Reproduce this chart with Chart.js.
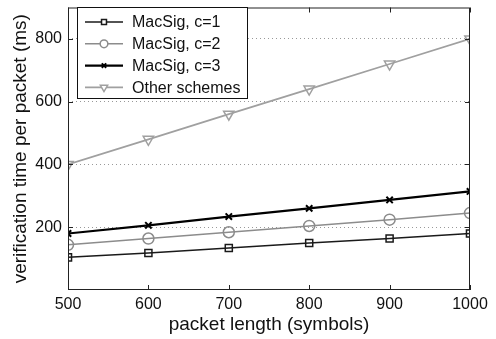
<!DOCTYPE html>
<html>
<head>
<meta charset="utf-8">
<script src="https://cdn.jsdelivr.net/npm/chart.js@4"></script>
<style>
  html, body { margin: 0; padding: 0; background: #fff; }
  #wrap { width: 496px; height: 339px; }
</style>
</head>
<body>
<div id="wrap"><canvas id="c" width="496" height="339"></canvas></div>
<script>
// data
const packetLengths = [500, 600, 700, 800, 900, 1000];
const macsigC1 = [104, 118, 134, 150, 164, 180];
const macsigC2 = [144, 164, 184, 204, 224, 245];
const macsigC3 = [180, 206, 234, 260, 287, 314];
const otherSchemes = [400, 480, 560, 640, 720, 800];
const yTicks = [200, 400, 600, 800];
const xTicks = [500, 600, 700, 800, 900, 1000];

const FONT = "'Liberation Sans', Arial, Helvetica, sans-serif";

function pts(vals) {
  return packetLengths.map((x, i) => ({ x, y: vals[i] }));
}

// MATLAB-like box, inward ticks and the legend
const boxPlugin = {
  id: "box",
  afterDraw(chart) {
    const { ctx, chartArea: a, scales } = chart;
    ctx.save();
    ctx.strokeStyle = "#222";
    ctx.lineWidth = 1;
    ctx.strokeRect(a.left + 0.5, a.top + 0.5, a.right - a.left - 1, a.bottom - a.top - 1);
    ctx.beginPath();
    xTicks.forEach((v) => {
      const px = Math.round(scales.x.getPixelForValue(v)) + 0.5;
      ctx.moveTo(px, a.bottom); ctx.lineTo(px, a.bottom - 5);
      ctx.moveTo(px, a.top); ctx.lineTo(px, a.top + 5);
    });
    yTicks.forEach((v) => {
      const py = Math.round(scales.y.getPixelForValue(v)) + 0.5;
      ctx.moveTo(a.left, py); ctx.lineTo(a.left + 5, py);
      ctx.moveTo(a.right, py); ctx.lineTo(a.right - 5, py);
    });
    ctx.stroke();

    // legend
    const lx = 77, ly = 7, lw = 170, lh = 91;
    ctx.fillStyle = "#fff";
    ctx.fillRect(lx, ly, lw, lh);
    ctx.strokeStyle = "#111";
    ctx.strokeRect(lx + 0.5, ly + 0.5, lw, lh);
    ctx.font = "16px " + FONT;
    ctx.textBaseline = "middle";
    chart.data.datasets.forEach((ds, i) => {
      const y = 22 + i * 21.8;
      ctx.strokeStyle = ds.borderColor;
      ctx.lineWidth = ds.borderWidth;
      ctx.beginPath();
      ctx.moveTo(85, y); ctx.lineTo(123, y);
      ctx.stroke();
      ctx.fillStyle = "#fff";
      ctx.strokeStyle = ds.pointBorderColor;
      ctx.lineWidth = ds.pointBorderWidth;
      Chart.helpers.drawPoint(ctx, {
        pointStyle: ds.pointStyle,
        radius: ds.pointRadius * 0.7,
        rotation: ds.pointRotation || 0,
        borderWidth: ds.pointBorderWidth
      }, 104, y);
      ctx.fillStyle = "#111";
      ctx.fillText(ds.label, 132, y + 1);
    });
    ctx.restore();
  }
};

new Chart(document.getElementById("c"), {
  type: "line",
  data: {
    datasets: [
      {
        label: "MacSig, c=1",
        data: pts(macsigC1),
        borderColor: "#1a1a1a",
        borderWidth: 1.5,
        pointStyle: "rect",
        pointRadius: 5,
        pointBorderWidth: 1.5,
        pointBackgroundColor: "rgba(0,0,0,0)",
        pointBorderColor: "#1a1a1a"
      },
      {
        label: "MacSig, c=2",
        data: pts(macsigC2),
        borderColor: "#8c8c8c",
        borderWidth: 1.5,
        pointStyle: "circle",
        pointRadius: 5.5,
        pointBorderWidth: 1.5,
        pointBackgroundColor: "rgba(0,0,0,0)",
        pointBorderColor: "#8c8c8c"
      },
      {
        label: "MacSig, c=3",
        data: pts(macsigC3),
        borderColor: "#000",
        borderWidth: 2.2,
        pointStyle: "crossRot",
        pointRadius: 4.5,
        pointBorderWidth: 2,
        pointBackgroundColor: "rgba(0,0,0,0)",
        pointBorderColor: "#000"
      },
      {
        label: "Other schemes",
        data: pts(otherSchemes),
        borderColor: "#a0a0a0",
        borderWidth: 1.8,
        pointStyle: "triangle",
        pointRotation: 180,
        pointRadius: 6,
        pointBorderWidth: 1.5,
        pointBackgroundColor: "rgba(0,0,0,0)",
        pointBorderColor: "#a0a0a0"
      }
    ]
  },
  options: {
    responsive: false,
    animation: false,
    layout: { padding: { top: 5, right: 26, left: 9, bottom: 3 } },
    plugins: { legend: { display: false }, tooltip: { enabled: false } },
    scales: {
      x: {
        type: "linear",
        min: 500,
        max: 1000,
        afterBuildTicks: (s) => { s.ticks = xTicks.map((v) => ({ value: v })); },
        afterFit: (s) => { s.height = 46; s.paddingLeft = 0; s.paddingRight = 0; },
        grid: { display: false, drawTicks: false },
        border: { display: false },
        ticks: {
          color: "#111",
          font: { family: FONT, size: 16 },
          padding: 5,
          maxRotation: 0,
          callback: (v) => String(v)
        },
        title: {
          display: true,
          text: "packet length (symbols)",
          color: "#111",
          font: { family: FONT, size: 19 },
          padding: { top: 0, bottom: 0 }
        }
      },
      y: {
        min: 0,
        max: 900,
        afterBuildTicks: (s) => { s.ticks = yTicks.map((v) => ({ value: v })); },
        afterFit: (s) => { s.width = 59; s.paddingTop = 0; s.paddingBottom = 0; },
        grid: { color: "#999", drawTicks: false, lineWidth: 1 },
        border: { display: false, dash: [1, 3] },
        ticks: { color: "#111", font: { family: FONT, size: 16 }, padding: 6 },
        title: {
          display: true,
          text: "verification time per packet (ms)",
          color: "#111",
          font: { family: FONT, size: 19 },
          padding: { top: 0, bottom: 0 }
        }
      }
    }
  },
  plugins: [boxPlugin]
});
</script>
</body>
</html>
